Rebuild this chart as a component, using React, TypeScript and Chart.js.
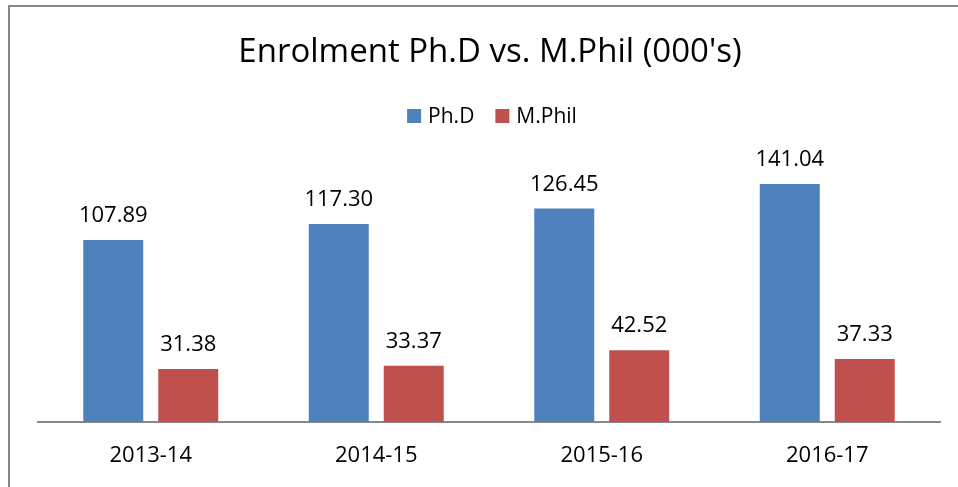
import React, { useEffect, useRef } from "react";
import { Chart, registerables } from "chart.js";

Chart.register(...registerables);

const TITLE = "Enrolment Ph.D vs. M.Phil (000's)";
const categories = ["2013-14", "2014-15", "2015-16", "2016-17"];
const seriesNames = ["Ph.D", "M.Phil"];
const phdValues = [107.89, 117.3, 126.45, 141.04];
const mphilValues = [31.38, 33.37, 42.52, 37.33];
const seriesColors = ["#4F81BD", "#C0504D"];

const FONT = "'Open Sans', 'Liberation Sans', sans-serif";

const decorPlugin = {
  id: "decor",
  beforeDraw(chart: any) {
    const ctx = chart.ctx;
    ctx.save();
    ctx.fillStyle = "#ffffff";
    ctx.fillRect(0, 0, chart.width, chart.height);
    ctx.strokeStyle = "#878787";
    ctx.lineWidth = 2;
    ctx.strokeRect(9, 6, chart.width + 20, chart.height + 20);
    ctx.restore();
  },
  afterDraw(chart: any) {
    const ctx = chart.ctx;
    ctx.save();
    // title
    ctx.fillStyle = "#000000";
    ctx.font = `33px ${FONT}`;
    ctx.textAlign = "center";
    ctx.textBaseline = "alphabetic";
    ctx.fillText(TITLE, 490, 62);
    // legend
    ctx.font = `21px ${FONT}`;
    ctx.textAlign = "left";
    const sq = 14;
    const gapText = 7;
    const gapItem = 21;
    const widths = seriesNames.map((n) => ctx.measureText(n).width);
    const total =
      widths.reduce((a, w) => a + sq + gapText + w, 0) + gapItem * (seriesNames.length - 1);
    let x = 492 - total / 2;
    seriesNames.forEach((n, i) => {
      ctx.fillStyle = seriesColors[i];
      ctx.fillRect(x, 109, sq, sq);
      ctx.fillStyle = "#000000";
      ctx.fillText(n, x + sq + gapText, 123);
      x += sq + gapText + widths[i] + gapItem;
    });
    ctx.restore();
  },
  afterDatasetsDraw(chart: any) {
    const ctx = chart.ctx;
    ctx.save();
    ctx.fillStyle = "#000000";
    ctx.font = `22px ${FONT}`;
    ctx.textAlign = "center";
    ctx.textBaseline = "alphabetic";
    chart.data.datasets.forEach((ds: any, di: number) => {
      const meta = chart.getDatasetMeta(di);
      meta.data.forEach((bar: any, i: number) => {
        ctx.fillText(Number(ds.data[i]).toFixed(2), bar.x, bar.y - 18);
      });
    });
    ctx.restore();
  },
};

export default function App() {
  const ref = useRef<HTMLCanvasElement | null>(null);
  useEffect(() => {
    if (!ref.current) return;
    const chart = new Chart(ref.current, {
      type: "bar",
      data: {
        labels: categories,
        datasets: [
          {
            label: seriesNames[0],
            data: phdValues,
            backgroundColor: seriesColors[0],
            categoryPercentage: 0.665,
            barPercentage: 0.8,
          },
          {
            label: seriesNames[1],
            data: mphilValues,
            backgroundColor: seriesColors[1],
            categoryPercentage: 0.665,
            barPercentage: 0.8,
          },
        ],
      },
      options: {
        animation: false,
        responsive: false,
        maintainAspectRatio: false,
        layout: { padding: { left: 38, right: 18, top: 152, bottom: 0 } },
        plugins: {
          legend: { display: false },
          title: { display: false },
          tooltip: { enabled: false },
        },
        scales: {
          x: {
            grid: { display: false, drawTicks: false },
            border: { display: true, color: "#898989", width: 2 },
            ticks: {
              color: "#000000",
              font: { family: FONT, size: 22 },
              padding: 21,
              maxRotation: 0,
            },
            afterFit: (scale: any) => {
              scale.height = 65;
            },
          },
          y: {
            display: false,
            min: 0,
            max: 160,
          },
        },
      },
      plugins: [decorPlugin],
    });
    return () => chart.destroy();
  }, []);
  return (
    <div style={{ position: "fixed", left: 0, top: 0, width: 958, height: 487 }}>
      <canvas ref={ref} width={958} height={487} style={{ display: "block" }} />
    </div>
  );
}
